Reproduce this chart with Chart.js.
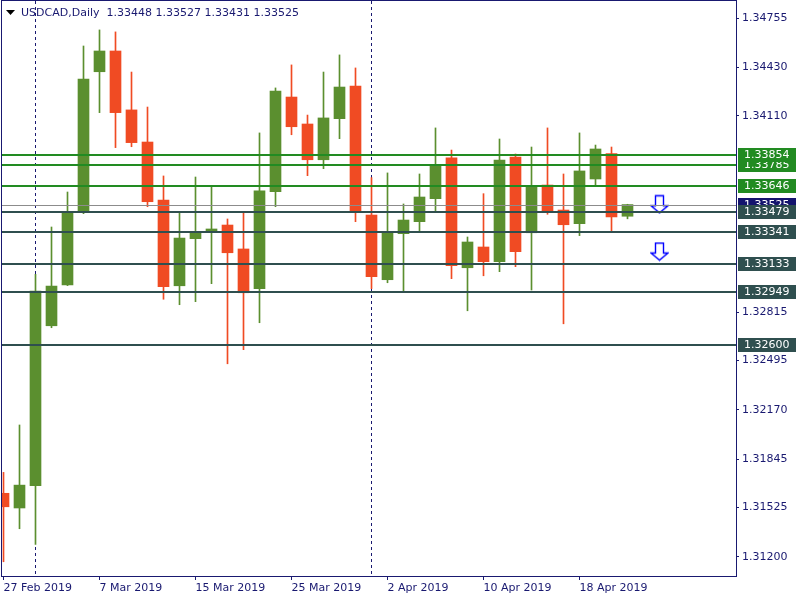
<!DOCTYPE html>
<html>
<head>
<meta charset="utf-8">
<script src="https://cdn.jsdelivr.net/npm/chart.js@4/dist/chart.umd.min.js"></script>
<style>
  html, body { margin: 0; padding: 0; background: #fff; }
  canvas { display: block; }
</style>
</head>
<body>
<canvas id="chart" width="800" height="600"></canvas>
<script>
// USDCAD daily candles, 27 Feb 2019 .. 23 Apr 2019
const dates = ['27 Feb 2019', '28 Feb 2019', '1 Mar 2019', '4 Mar 2019', '5 Mar 2019', '6 Mar 2019',
    '7 Mar 2019', '8 Mar 2019', '11 Mar 2019', '12 Mar 2019', '13 Mar 2019', '14 Mar 2019',
    '15 Mar 2019', '18 Mar 2019', '19 Mar 2019', '20 Mar 2019', '21 Mar 2019', '22 Mar 2019',
    '25 Mar 2019', '26 Mar 2019', '27 Mar 2019', '28 Mar 2019', '29 Mar 2019', '1 Apr 2019',
    '2 Apr 2019', '3 Apr 2019', '4 Apr 2019', '5 Apr 2019', '8 Apr 2019', '9 Apr 2019',
    '10 Apr 2019', '11 Apr 2019', '12 Apr 2019', '15 Apr 2019', '16 Apr 2019', '17 Apr 2019',
    '18 Apr 2019', '19 Apr 2019', '22 Apr 2019', '23 Apr 2019'];

const opens = [1.31619, 1.31522, 1.31669, 1.32725, 1.32994, 1.33471, 1.34402, 1.34539, 1.34150, 1.33938,
    1.33555, 1.32989, 1.33300, 1.33344, 1.33390, 1.33232, 1.32970, 1.33610, 1.34235, 1.34057,
    1.33821, 1.34092, 1.34308, 1.33456, 1.33029, 1.33333, 1.33412, 1.33564, 1.33833, 1.33108,
    1.33245, 1.33148, 1.33839, 1.33339, 1.33654, 1.33489, 1.33399, 1.33694, 1.33861, 1.33448];
const highs = [1.31757, 1.32070, 1.33065, 1.33377, 1.33608, 1.34572, 1.34678, 1.34665, 1.34400, 1.34169,
    1.33714, 1.33469, 1.33707, 1.33650, 1.33430, 1.33469, 1.33998, 1.34295, 1.34447, 1.34116,
    1.34400, 1.34513, 1.34427, 1.33703, 1.33734, 1.33529, 1.33727, 1.34031, 1.33885, 1.33311,
    1.33597, 1.33958, 1.33859, 1.33905, 1.34031, 1.33727, 1.33998, 1.33918, 1.33905, 1.33527];
const lows = [1.31167, 1.31385, 1.31282, 1.32712, 1.32990, 1.33465, 1.34132, 1.33901, 1.33907, 1.33511,
    1.32900, 1.32864, 1.32884, 1.33003, 1.32474, 1.32567, 1.32745, 1.33511, 1.33986, 1.33716,
    1.33762, 1.33960, 1.33412, 1.32970, 1.33009, 1.32950, 1.33346, 1.33485, 1.33036, 1.32824,
    1.33055, 1.33082, 1.33115, 1.32961, 1.33461, 1.32738, 1.33320, 1.33654, 1.33342, 1.33431];
const closes = [1.31530, 1.31673, 1.32954, 1.32987, 1.33478, 1.34354, 1.34539, 1.34132, 1.33934, 1.33544,
    1.32983, 1.33304, 1.33339, 1.33364, 1.33207, 1.32943, 1.33615, 1.34275, 1.34039, 1.33821,
    1.34097, 1.34301, 1.33478, 1.33049, 1.33344, 1.33423, 1.33575, 1.33786, 1.33121, 1.33278,
    1.33148, 1.33819, 1.33214, 1.33648, 1.33483, 1.33392, 1.33747, 1.33892, 1.33443, 1.33525];

const dateTicks = [0, 6, 12, 18, 24, 30, 36];
const monthStarts = [2, 23];
const priceTicks = [1.34755, 1.34430, 1.34110, 1.32815, 1.32495, 1.32170, 1.31845, 1.31525, 1.31200];

const greenLevels = [1.33854, 1.33785, 1.33646];
const darkLevels = [1.33479, 1.33341, 1.33133, 1.32949, 1.32600];
const lastPrice = 1.33525;

const arrowIdx = [41, 41];
const arrowPrices = [1.33527, 1.33215];

const navy = '#191970';
const bull = '#5B8F2F';
const bear = '#F04B23';
const font = 'DejaVu Sans';

const candleColor = (c) => closes[c.dataIndex] >= opens[c.dataIndex] ? bull : bear;

// hollow down arrow like the MT4 arrow object
function arrowImage() {
    const c = document.createElement('canvas');
    c.width = 19;
    c.height = 20;
    const g = c.getContext('2d');
    g.strokeStyle = '#0000FF';
    g.lineWidth = 1.4;
    g.beginPath();
    g.moveTo(5.5, 1.5);
    g.lineTo(13.5, 1.5);
    g.lineTo(13.5, 11.5);
    g.lineTo(18, 11.5);
    g.lineTo(9.5, 18.5);
    g.lineTo(1, 11.5);
    g.lineTo(5.5, 11.5);
    g.closePath();
    g.stroke();
    return c;
}

const mt4Plugin = {
    id: 'mt4',
    beforeDatasetsDraw(chart) {
        const { ctx, chartArea: a, scales: { x } } = chart;
        ctx.save();
        // period separators
        ctx.strokeStyle = navy;
        ctx.lineWidth = 1;
        ctx.setLineDash([3, 3]);
        monthStarts.forEach(i => {
            const px = Math.floor(x.getPixelForValue(i)) + 0.5;
            ctx.beginPath();
            ctx.moveTo(px, a.top);
            ctx.lineTo(px, a.bottom);
            ctx.stroke();
        });
        ctx.restore();
    },
    afterDatasetsDraw(chart) {
        const { ctx, chartArea: a, scales: { y } } = chart;
        ctx.save();
        ctx.beginPath();
        ctx.rect(a.left, a.top, a.right - a.left, a.bottom - a.top);
        ctx.clip();

        // bid line
        ctx.strokeStyle = '#8C8C8C';
        ctx.lineWidth = 1;
        let py = Math.round(y.getPixelForValue(lastPrice)) + 0.5;
        ctx.beginPath();
        ctx.moveTo(a.left, py);
        ctx.lineTo(a.right, py);
        ctx.stroke();

        // horizontal levels
        ctx.lineWidth = 2;
        const drawLevel = (v, col) => {
            const yy = Math.round(y.getPixelForValue(v));
            ctx.strokeStyle = col;
            ctx.beginPath();
            ctx.moveTo(a.left, yy);
            ctx.lineTo(a.right, yy);
            ctx.stroke();
        };
        greenLevels.forEach(v => drawLevel(v, '#228B22'));
        darkLevels.forEach(v => drawLevel(v, '#2F4F4F'));
        ctx.restore();
    },
    afterDraw(chart) {
        const { ctx, chartArea: a, scales: { y } } = chart;
        ctx.save();

        // frame
        ctx.strokeStyle = navy;
        ctx.lineWidth = 1;
        ctx.strokeRect(a.left - 0.5, a.top - 0.5, a.right - a.left + 1, a.bottom - a.top + 1);

        // price labels on the right axis
        ctx.font = '11px "' + font + '"';
        ctx.textBaseline = 'middle';
        ctx.textAlign = 'left';
        const box = (v, fill) => {
            const yy = Math.round(y.getPixelForValue(v));
            ctx.fillStyle = fill;
            ctx.fillRect(a.right + 2, yy - 7, 58, 14);
            ctx.fillStyle = '#FFFFFF';
            ctx.fillText(v.toFixed(5), a.right + 8, yy + 0.5);
        };
        box(lastPrice, '#14146E');
        const levels = greenLevels.map(v => [v, '#228B22']).concat(darkLevels.map(v => [v, '#2F4F4F']));
        levels.sort((p, q) => p[0] - q[0]).forEach(l => box(l[0], l[1]));

        // title
        const n = closes.length - 1;
        ctx.fillStyle = '#000000';
        ctx.beginPath();
        ctx.moveTo(6, 10);
        ctx.lineTo(15, 10);
        ctx.lineTo(10.5, 15);
        ctx.closePath();
        ctx.fill();
        ctx.fillStyle = navy;
        ctx.fillText('USDCAD,Daily  ' + [opens[n], highs[n], lows[n], closes[n]].map(v => v.toFixed(5)).join(' '), 21, 13);
        ctx.restore();
    }
};

const ctx = document.getElementById('chart').getContext('2d');

new Chart(ctx, {
    type: 'bar',
    data: {
        datasets: [{
            label: 'wicks',
            data: dates.map((d, i) => ({ x: i, y: [lows[i], highs[i]] })),
            backgroundColor: candleColor,
            barThickness: 1,
            grouped: false,
            borderWidth: 0,
            order: 2
        }, {
            label: 'bodies',
            data: dates.map((d, i) => ({ x: i, y: [opens[i], closes[i]] })),
            backgroundColor: candleColor,
            barThickness: 11,
            grouped: false,
            borderWidth: 0,
            order: 1
        }, {
            type: 'scatter',
            label: 'arrows',
            data: arrowIdx.map((k, i) => ({ x: k, y: arrowPrices[i] })),
            pointStyle: arrowImage(),
            order: 0
        }]
    },
    options: {
        responsive: false,
        animation: false,
        events: [],
        layout: { autoPadding: false, padding: { left: 2, top: 1, right: 0, bottom: 0 } },
        plugins: {
            legend: { display: false },
            tooltip: { enabled: false }
        },
        scales: {
            x: {
                type: 'linear',
                offset: false,
                min: -0.09375,
                max: 45.78125,
                afterFit: (s) => { s.height = 24; s.paddingLeft = 0; s.paddingRight = 0; },
                afterBuildTicks: (s) => { s.ticks = dateTicks.map(v => ({ value: v })); },
                grid: { drawOnChartArea: false, drawTicks: true, tickLength: 4, color: navy, offset: false },
                border: { display: false },
                ticks: {
                    color: navy,
                    font: { family: font, size: 11 },
                    padding: 2,
                    align: 'start',
                    maxRotation: 0,
                    autoSkip: false,
                    callback: (v) => dates[v]
                }
            },
            y: {
                type: 'linear',
                position: 'right',
                min: 1.31073,
                max: 1.34869,
                afterFit: (s) => { s.width = 64; s.paddingTop = 0; s.paddingBottom = 0; },
                afterBuildTicks: (s) => { s.ticks = priceTicks.map(v => ({ value: v })); },
                grid: { drawOnChartArea: false, drawTicks: true, tickLength: 3, color: navy },
                border: { display: false },
                ticks: {
                    color: navy,
                    font: { family: font, size: 11 },
                    padding: 3,
                    callback: (v) => v.toFixed(5)
                }
            }
        }
    },
    plugins: [mt4Plugin]
});
</script>
</body>
</html>
